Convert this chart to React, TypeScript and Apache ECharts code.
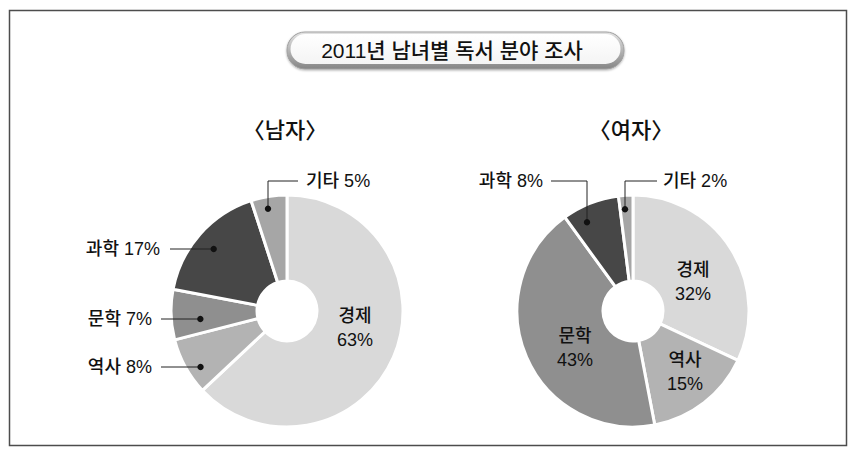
import React, { useEffect, useRef } from 'react';
import * as echarts from 'echarts';

// ---- data ----
const categories = ['경제', '역사', '문학', '과학', '기타'];
const maleValues = [63, 8, 7, 17, 5];
const femaleValues = [32, 15, 43, 8, 2];
const chartTitle = '2011년 남녀별 독서 분야 조사';
const groupTitles = ['〈남자〉', '〈여자〉'];

// ---- layout / style ----
const W = 858;
const H = 455;
const FONT = "'Liberation Sans', 'Noto Sans CJK KR', sans-serif";
const sliceColors = ['#d9d9d9', '#b3b3b3', '#8f8f8f', '#474747', '#a6a6a6'];
const pieCenters: number[][] = [[287, 311], [633, 311]];
const R_IN = 30;
const R_OUT = 116;

type Lay = {
  kind: 'in' | 'h' | 'v';
  x: number;
  y: number;
  align?: 'left' | 'right' | 'center';
  lineX?: number;
  dotR?: number;
  gap?: number;
};

const labelLayouts: Lay[][] = [
  [
    { kind: 'in', x: 355, y: 328 },
    { kind: 'h', x: 152, y: 367, align: 'right', dotR: 103, gap: 9 },
    { kind: 'h', x: 152, y: 319, align: 'right', dotR: 87, gap: 9 },
    { kind: 'h', x: 160, y: 249, align: 'right', dotR: 96, gap: 10 },
    { kind: 'v', x: 306, y: 181, align: 'left', lineX: 268, dotR: 104, gap: 8 },
  ],
  [
    { kind: 'in', x: 693, y: 282 },
    { kind: 'in', x: 685, y: 372 },
    { kind: 'in', x: 575, y: 348 },
    { kind: 'v', x: 543, y: 181, align: 'right', lineX: 587, dotR: 100, gap: 8 },
    { kind: 'v', x: 663, y: 181, align: 'left', lineX: 625, dotR: 102, gap: 6 },
  ],
];

function dotOf(si: number, lay: Lay): number[] | null {
  const [cx, cy] = pieCenters[si];
  if (lay.kind === 'h') {
    const dy = lay.y - cy;
    const dx = Math.sqrt(Math.max(0, lay.dotR! * lay.dotR! - dy * dy));
    return [lay.x < cx ? cx - dx : cx + dx, lay.y];
  }
  if (lay.kind === 'v') {
    const dx = lay.lineX! - cx;
    const dy = Math.sqrt(Math.max(0, lay.dotR! * lay.dotR! - dx * dx));
    return [lay.lineX!, cy - dy];
  }
  return null;
}

function linePoints(si: number, lay: Lay): number[][] | null {
  const d = dotOf(si, lay);
  if (!d) return null;
  const endX = lay.align === 'left' ? lay.x - lay.gap! : lay.x + lay.gap!;
  if (lay.kind === 'h') return [d, [endX, lay.y]];
  return [d, [lay.lineX!, lay.y], [endX, lay.y]];
}

export default function App() {
  const ref = useRef<HTMLDivElement>(null);

  useEffect(() => {
    document.body.style.margin = '0';
    if (!ref.current) return;
    const chart = echarts.init(ref.current, undefined, { renderer: 'svg' });

    const seriesValues = [maleValues, femaleValues];

    const leaders: any[] = [];
    labelLayouts.forEach((arr, si) => {
      arr.forEach((lay) => {
        const d = dotOf(si, lay);
        const pts = linePoints(si, lay);
        if (d && pts) {
          leaders.push({
            type: 'polyline',
            shape: { points: pts },
            style: { stroke: '#222', lineWidth: 1, fill: 'none' },
            z: 100,
            silent: true,
          });
          leaders.push({
            type: 'circle',
            shape: { cx: d[0], cy: d[1], r: 3.2 },
            style: { fill: '#111' },
            z: 101,
            silent: true,
          });
        }
      });
    });

    const option: any = {
      animation: false,
      backgroundColor: '#fff',
      title: [
        {
          text: chartTitle,
          left: 452,
          top: 50,
          padding: 0,
          textAlign: 'center',
          textVerticalAlign: 'middle',
          textStyle: { fontSize: 21, fontWeight: 500, color: '#111', fontFamily: FONT },
        },
        ...groupTitles.map((t, i) => ({
          text: t,
          left: pieCenters[i][0] - 2,
          top: 128,
          padding: 0,
          textAlign: 'center',
          textVerticalAlign: 'middle',
          textStyle: {
            fontSize: 22,
            fontWeight: 500,
            color: '#111',
            fontFamily: "'Noto Sans CJK KR', sans-serif",
          },
        })),
      ],
      graphic: [
        {
          type: 'rect',
          shape: { x: 9.5, y: 10.5, width: 837, height: 435 },
          style: { fill: 'none', stroke: '#4d4d4d', lineWidth: 1.5 },
          silent: true,
        },
        {
          type: 'rect',
          shape: { x: 287, y: 32, width: 337, height: 37, r: 18 },
          style: {
            fill: new echarts.graphic.LinearGradient(0, 0, 0, 1, [
              { offset: 0, color: '#e4e4e4' },
              { offset: 1, color: '#858585' },
            ]),
            stroke: '#a0a0a0',
            lineWidth: 1,
            shadowBlur: 2,
            shadowOffsetY: 1,
            shadowColor: 'rgba(0,0,0,0.3)',
          },
          z: 1,
          silent: true,
        },
        {
          type: 'rect',
          shape: { x: 290.5, y: 34, width: 330, height: 30, r: 15 },
          style: {
            fill: new echarts.graphic.LinearGradient(0, 0, 0, 1, [
              { offset: 0, color: '#ffffff' },
              { offset: 1, color: '#f4f4f4' },
            ]),
          },
          z: 2,
          silent: true,
        },
        ...leaders,
      ],
      series: [0, 1].map((si) => ({
        type: 'pie',
        name: groupTitles[si],
        center: pieCenters[si],
        radius: [R_IN, R_OUT],
        startAngle: 90,
        clockwise: true,
        avoidLabelOverlap: false,
        silent: true,
        emphasis: { disabled: true },
        itemStyle: { borderColor: '#fff', borderWidth: 3 },
        label: {
          show: true,
          color: '#111',
          fontSize: 18,
          fontWeight: 500,
          fontFamily: FONT,
          lineHeight: 24,
        },
        labelLine: { show: false },
        data: categories.map((c, i) => {
          const lay = labelLayouts[si][i];
          const inside = lay.kind === 'in';
          return {
            name: c,
            value: seriesValues[si][i],
            itemStyle: { color: sliceColors[i] },
            label: {
              position: inside ? 'inside' : 'outside',
              formatter: inside ? '{b}\n{c}%' : '{b} {c}%',
              align: inside ? 'center' : lay.align,
            },
          };
        }),
        labelLayout: (p: any) => {
          const lay = labelLayouts[si][p.dataIndex];
          return {
            x: lay.x,
            y: lay.y,
            align: lay.kind === 'in' ? 'center' : lay.align,
            verticalAlign: 'middle',
          };
        },
      })),
    };

    chart.setOption(option);
    return () => chart.dispose();
  }, []);

  return <div ref={ref} style={{ width: W, height: H }} />;
}
